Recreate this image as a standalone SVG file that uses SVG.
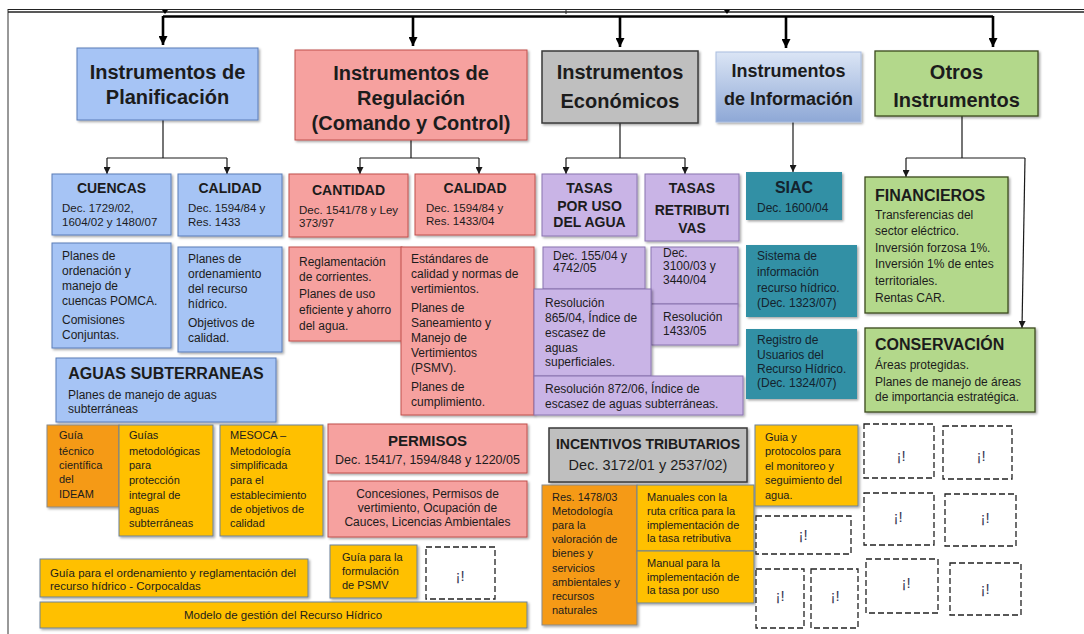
<svg xmlns="http://www.w3.org/2000/svg" width="1084" height="634" viewBox="0 0 1084 634">
<style>
text{font-family:"Liberation Sans",Arial,sans-serif;fill:#1c1c1c}
.h{font-size:20px;font-weight:bold;text-anchor:middle}
.s{font-size:14px;font-weight:bold;text-anchor:middle}
.b{font-size:12px}
.d{font-size:11.5px}
.y{font-size:11px}
.m{text-anchor:middle}
.ex{font-size:15px;fill:#3a3a55;text-anchor:middle}
.blue{fill:#a6c4f5;stroke:#5a7db8;stroke-width:1}
.pink{fill:#f6a19f;stroke:#c0504d;stroke-width:1}
.gray{fill:#bfbfbf;stroke:#3a3a3a;stroke-width:1.5}
.purp{fill:#c9b4e6;stroke:#8a74b0;stroke-width:1}
.teal{fill:#3190a5}
.tt{fill:#14232e}
.green{fill:#b3d88b;stroke:#3c4a1e;stroke-width:1.3}
.yel{fill:#ffc000;stroke:#6d8299;stroke-width:1}
.org{fill:#f59a14;stroke:#8a8a8a;stroke-width:1}
.dash{fill:#fff;stroke:#222;stroke-width:1.3;stroke-dasharray:6 3}
.sh{filter:url(#sh)}
.bus{stroke:#000;stroke-width:2.6;fill:none}
.ln{stroke:#1a1a1a;stroke-width:1.2;fill:none}
</style>
<defs>
<filter id="sh" x="-10%" y="-10%" width="130%" height="130%">
<feDropShadow dx="1.5" dy="1.5" stdDeviation="1" flood-color="#000" flood-opacity="0.35"/>
</filter>
<linearGradient id="ig" x1="0" y1="0" x2="0" y2="1">
<stop offset="0" stop-color="#dbe5f5"/>
<stop offset="1" stop-color="#8ea8d6"/>
</linearGradient>
<marker id="big" viewBox="0 0 10 10" refX="10" refY="5" markerWidth="9" markerHeight="9" markerUnits="userSpaceOnUse" orient="auto">
<path d="M0,0 L10,5 L0,10 z" fill="#000"/>
</marker>
<marker id="sm" viewBox="0 0 10 10" refX="10" refY="5" markerWidth="7" markerHeight="7" markerUnits="userSpaceOnUse" orient="auto">
<path d="M0,0 L10,5 L0,10 z" fill="#1a1a1a"/>
</marker>
</defs>
<rect width="1084" height="634" fill="#fff"/>

<g id="frame">
<line x1="8" y1="9" x2="8" y2="634" stroke="#333" stroke-width="1"/>
<line x1="8" y1="9.5" x2="1084" y2="9.5" stroke="#222" stroke-width="1"/>
<line x1="8" y1="12" x2="1084" y2="12" stroke="#222" stroke-width="1.4"/>
<path d="M162,10 L168,10 L165,14 z" fill="#000"/>
<line x1="566" y1="9" x2="566" y2="14" stroke="#222" stroke-width="1"/>
<path d="M724,10 L730,10 L727,14 z" fill="#000"/>
</g>

<g id="connectors">
<path class="bus" d="M163,16.5 H993" stroke-width="3.5"/>
<line class="bus" x1="163" y1="16" x2="163" y2="45" marker-end="url(#big)"/>
<line class="bus" x1="413" y1="16" x2="413" y2="46" marker-end="url(#big)"/>
<line class="bus" x1="620" y1="16" x2="620" y2="47" marker-end="url(#big)"/>
<line class="bus" x1="786" y1="16" x2="786" y2="48" marker-end="url(#big)"/>
<line class="bus" x1="993" y1="16" x2="993" y2="47" marker-end="url(#big)"/>
<path class="ln" d="M163,120 V158 M107,158 H227"/>
<line class="ln" x1="107" y1="158" x2="107" y2="174" marker-end="url(#sm)"/>
<line class="ln" x1="227" y1="158" x2="227" y2="174" marker-end="url(#sm)"/>
<path class="ln" d="M411,140 V158 M360,158 H479"/>
<line class="ln" x1="360" y1="158" x2="360" y2="174" marker-end="url(#sm)"/>
<line class="ln" x1="479" y1="158" x2="479" y2="174" marker-end="url(#sm)"/>
<path class="ln" d="M620,123 V158 M566,158 H685"/>
<line class="ln" x1="566" y1="158" x2="566" y2="174" marker-end="url(#sm)"/>
<line class="ln" x1="685" y1="158" x2="685" y2="174" marker-end="url(#sm)"/>
<line class="ln" x1="793" y1="122" x2="793" y2="172" marker-end="url(#sm)"/>
<path class="ln" d="M962,116 V158 M906,158 H1025"/>
<line class="ln" x1="906" y1="158" x2="906" y2="177" marker-end="url(#sm)"/>
<line class="ln" x1="1025" y1="158" x2="1022" y2="328" marker-end="url(#sm)"/>
</g>

<g id="plan-h">
<rect class="blue sh" x="77" y="48" width="181" height="72" stroke-width="1.3"/>
<text class="h" x="167.5" y="79">Instrumentos de</text>
<text class="h" x="167.5" y="104">Planificación</text>
</g>
<g id="reg-h">
<rect class="pink sh" x="295" y="50" width="232" height="90" stroke-width="1.3"/>
<text class="h" x="411" y="80">Instrumentos de</text>
<text class="h" x="411" y="105">Regulación</text>
<text class="h" x="411" y="130">(Comando y Control)</text>
</g>
<g id="eco-h">
<rect class="gray sh" x="542" y="51" width="156" height="72"/>
<text class="h" x="620" y="79">Instrumentos</text>
<text class="h" x="620" y="108">Económicos</text>
</g>
<g id="inf-h">
<rect class="sh" x="716" y="52" width="145" height="70" fill="url(#ig)" stroke="#a9bde0" stroke-width="1"/>
<text class="h" x="788.5" y="77" style="font-size:18px">Instrumentos</text>
<text class="h" x="788.5" y="105" style="font-size:18px">de Información</text>
</g>
<g id="otr-h">
<rect class="green sh" x="875" y="51" width="163" height="65"/>
<text class="h" x="956.5" y="79">Otros</text>
<text class="h" x="956.5" y="107">Instrumentos</text>
</g>

<g id="cuencas">
<rect class="blue sh" x="52" y="174" width="119" height="61"/>
<text class="s" x="111.5" y="193">CUENCAS</text>
<text class="d" x="62" y="212">Dec. 1729/02,</text>
<text class="d" x="62" y="226">1604/02 y 1480/07</text>
</g>
<g id="calidad-p">
<rect class="blue sh" x="178" y="174" width="104" height="62"/>
<text class="s" x="230" y="193">CALIDAD</text>
<text class="d" x="188" y="212">Dec. 1594/84  y</text>
<text class="d" x="188" y="226">Res. 1433</text>
</g>
<g id="pomca">
<rect class="blue sh" x="52" y="243" width="119" height="105"/>
<text class="b" x="62" y="260">Planes de</text>
<text class="b" x="62" y="275">ordenación y</text>
<text class="b" x="62" y="290">manejo de</text>
<text class="b" x="62" y="305">cuencas POMCA.</text>
<text class="b" x="62" y="324">Comisiones</text>
<text class="b" x="62" y="339">Conjuntas.</text>
</g>
<g id="ordenamiento">
<rect class="blue sh" x="178" y="247" width="104" height="105"/>
<text class="b" x="188" y="263">Planes de</text>
<text class="b" x="188" y="278">ordenamiento</text>
<text class="b" x="188" y="293">del recurso</text>
<text class="b" x="188" y="308">hídrico.</text>
<text class="b" x="188" y="327">Objetivos de</text>
<text class="b" x="188" y="342">calidad.</text>
</g>
<g id="aguas">
<rect class="blue sh" x="56" y="358" width="220" height="64"/>
<text class="s" x="166" y="379" style="font-size:16px">AGUAS SUBTERRANEAS</text>
<text class="b" x="68" y="399">Planes de manejo de aguas</text>
<text class="b" x="68" y="413">subterráneas</text>
</g>

<g id="cantidad">
<rect class="pink sh" x="289" y="174" width="119" height="63"/>
<text class="s" x="348.5" y="195">CANTIDAD</text>
<text class="d" x="299" y="214">Dec. 1541/78 y Ley</text>
<text class="d" x="299" y="227">373/97</text>
</g>
<g id="calidad-r">
<rect class="pink sh" x="415" y="174" width="120" height="61"/>
<text class="s" x="475" y="193">CALIDAD</text>
<text class="d" x="426" y="212">Dec. 1594/84 y</text>
<text class="d" x="426" y="225">Res. 1433/04</text>
</g>
<g id="reglamentacion">
<rect class="pink sh" x="289" y="247" width="113" height="94"/>
<text class="b" x="299" y="266">Reglamentación</text>
<text class="b" x="299" y="281">de corrientes.</text>
<text class="b" x="299" y="298">Planes  de uso</text>
<text class="b" x="299" y="314">eficiente y ahorro</text>
<text class="b" x="299" y="330">del agua.</text>
</g>
<g id="estandares">
<rect class="pink sh" x="401" y="247" width="133" height="168"/>
<text class="b" x="411" y="263">Estándares de</text>
<text class="b" x="411" y="278">calidad y normas de</text>
<text class="b" x="411" y="293">vertimientos.</text>
<text class="b" x="411" y="312">Planes de</text>
<text class="b" x="411" y="327">Saneamiento y</text>
<text class="b" x="411" y="342">Manejo de</text>
<text class="b" x="411" y="357">Vertimientos</text>
<text class="b" x="411" y="372">(PSMV).</text>
<text class="b" x="411" y="391">Planes de</text>
<text class="b" x="411" y="406">cumplimiento.</text>
</g>

<g id="tasas-uso">
<rect class="purp sh" x="542" y="174" width="95" height="62"/>
<text class="s" x="589.5" y="193">TASAS</text>
<text class="s" x="589.5" y="211">POR USO</text>
<text class="s" x="589.5" y="227">DEL AGUA</text>
</g>
<g id="tasas-ret">
<rect class="purp sh" x="645" y="174" width="94" height="67"/>
<text class="s" x="692" y="193">TASAS</text>
<text class="s" x="692" y="215">RETRIBUTI</text>
<text class="s" x="692" y="233">VAS</text>
</g>
<g id="dec155">
<rect class="purp sh" x="543" y="247" width="102" height="42"/>
<text class="b" x="553" y="260">Dec. 155/04 y</text>
<text class="b" x="553" y="272">4742/05</text>
</g>
<g id="dec3100">
<rect class="purp sh" x="651" y="247" width="87" height="57"/>
<text class="b" x="663" y="257">Dec.</text>
<text class="b" x="663" y="270">3100/03 y</text>
<text class="b" x="663" y="284">3440/04</text>
</g>
<g id="res1433">
<rect class="purp sh" x="651" y="304" width="87" height="41"/>
<text class="b" x="663" y="321">Resolución</text>
<text class="b" x="663" y="335">1433/05</text>
</g>
<g id="res865">
<rect class="purp sh" x="534" y="289" width="117" height="87"/>
<text class="b" x="545" y="307">Resolución</text>
<text class="b" x="545" y="322">865/04, Índice de</text>
<text class="b" x="545" y="337">escasez de</text>
<text class="b" x="545" y="352">aguas</text>
<text class="b" x="545" y="366">superficiales.</text>
</g>
<g id="res872">
<rect class="purp sh" x="534" y="376" width="209" height="39"/>
<text class="b" x="545" y="393">Resolución 872/06,  Índice de</text>
<text class="b" x="545" y="408">escasez de aguas subterráneas.</text>
</g>

<g id="siac">
<rect class="teal sh" x="746" y="172" width="96" height="48"/>
<text class="s tt" x="794" y="193" style="font-size:16px">SIAC</text>
<text class="b tt" x="757" y="212">Dec. 1600/04</text>
</g>
<g id="sistema">
<rect class="teal sh" x="746" y="245" width="111" height="72"/>
<text class="b tt" x="757" y="260">Sistema de</text>
<text class="b tt" x="757" y="276">información</text>
<text class="b tt" x="757" y="292">recurso  hídrico.</text>
<text class="b tt" x="757" y="307">(Dec. 1323/07)</text>
</g>
<g id="registro">
<rect class="teal sh" x="746" y="329" width="111" height="70"/>
<text class="b tt" x="757" y="344">Registro  de</text>
<text class="b tt" x="757" y="359">Usuarios del</text>
<text class="b tt" x="757" y="373">Recurso Hídrico.</text>
<text class="b tt" x="757" y="387">(Dec. 1324/07)</text>
</g>

<g id="financieros">
<rect class="green sh" x="865" y="177" width="143" height="136"/>
<text class="s" x="875" y="201" style="font-size:16px;text-anchor:start">FINANCIEROS</text>
<text class="b" x="875" y="219">Transferencias del</text>
<text class="b" x="875" y="235">sector eléctrico.</text>
<text class="b" x="875" y="252">Inversión forzosa 1%.</text>
<text class="b" x="875" y="268">Inversión 1% de entes</text>
<text class="b" x="875" y="285">territoriales.</text>
<text class="b" x="875" y="302">Rentas CAR.</text>
</g>
<g id="conservacion">
<rect class="green sh" x="865" y="328" width="170" height="84"/>
<text class="s" x="875" y="350" style="font-size:16px;text-anchor:start">CONSERVACIÓN</text>
<text class="b" x="875" y="369">Áreas protegidas.</text>
<text class="b" x="875" y="386">Planes de manejo de áreas</text>
<text class="b" x="875" y="401">de importancia estratégica.</text>
</g>

<g id="guia-tecnico">
<rect class="org sh" x="47" y="425" width="72" height="82"/>
<text class="y" x="59" y="439">Guía</text>
<text class="y" x="59" y="455">técnico</text>
<text class="y" x="59" y="469">científica</text>
<text class="y" x="59" y="483">del</text>
<text class="y" x="59" y="498">IDEAM</text>
</g>
<g id="guias-met">
<rect class="yel sh" x="119" y="425" width="94" height="111"/>
<text class="y" x="129" y="439">Guías</text>
<text class="y" x="129" y="455">metodológicas</text>
<text class="y" x="129" y="469">para</text>
<text class="y" x="129" y="484">protección</text>
<text class="y" x="129" y="499">integral de</text>
<text class="y" x="129" y="513">aguas</text>
<text class="y" x="129" y="527">subterráneas</text>
</g>
<g id="mesoca">
<rect class="yel sh" x="220" y="425" width="103" height="111"/>
<text class="y" x="230" y="439">MESOCA –</text>
<text class="y" x="230" y="455">Metodología</text>
<text class="y" x="230" y="469">simplificada</text>
<text class="y" x="230" y="484">para el</text>
<text class="y" x="230" y="499">establecimiento</text>
<text class="y" x="230" y="513">de objetivos  de</text>
<text class="y" x="230" y="527">calidad</text>
</g>
<g id="guia-ordenamiento">
<rect class="yel sh" x="40" y="559" width="268" height="38"/>
<text class="d" x="50" y="577">Guía para el ordenamiento y reglamentación  del</text>
<text class="d" x="50" y="590">recurso hídrico  - Corpocaldas</text>
</g>
<g id="modelo">
<rect class="yel sh" x="40" y="602" width="487" height="26"/>
<text class="d m" x="283" y="619">Modelo de gestión del Recurso Hídrico</text>
</g>

<g id="permisos">
<rect class="pink sh" x="328" y="424" width="199" height="49"/>
<text class="s" x="427.5" y="446" style="font-size:15px">PERMISOS</text>
<text class="m" x="427.5" y="464" style="font-size:12.5px">Dec. 1541/7, 1594/848 y 1220/05</text>
</g>
<g id="concesiones">
<rect class="pink sh" x="328" y="481" width="199" height="56"/>
<text class="b m" x="427.5" y="498">Concesiones, Permisos de</text>
<text class="b m" x="427.5" y="512">vertimiento, Ocupación de</text>
<text class="b m" x="427.5" y="526">Cauces, Licencias Ambientales</text>
</g>
<g id="guia-psmv">
<rect class="yel sh" x="330" y="545" width="87" height="53"/>
<text class="y" x="342" y="561">Guía para  la</text>
<text class="y" x="342" y="575">formulación</text>
<text class="y" x="342" y="589">de PSMV</text>
</g>
<g id="vacio-1">
<rect class="dash" x="426" y="547" width="69" height="52"/>
<text class="ex" x="460" y="581">¡!</text>
</g>

<g id="incentivos">
<rect class="gray sh" x="549" y="428" width="198" height="54"/>
<text class="s" x="648" y="449">INCENTIVOS TRIBUTARIOS</text>
<text class="m" x="648" y="470" style="font-size:14.5px">Dec. 3172/01 y 2537/02)</text>
</g>
<g id="res1478">
<rect class="org sh" x="542" y="485" width="95" height="140"/>
<text class="y" x="552" y="501">Res. 1478/03</text>
<text class="y" x="552" y="515">Metodología</text>
<text class="y" x="552" y="529">para la</text>
<text class="y" x="552" y="543">valoración de</text>
<text class="y" x="552" y="557">bienes y</text>
<text class="y" x="552" y="572">servicios</text>
<text class="y" x="552" y="586">ambientales y</text>
<text class="y" x="552" y="600">recursos</text>
<text class="y" x="552" y="614">naturales</text>
</g>
<g id="manuales">
<rect class="yel sh" x="637" y="485" width="117" height="66"/>
<text class="y" x="647" y="501">Manuales con la</text>
<text class="y" x="647" y="515">ruta crítica para la</text>
<text class="y" x="647" y="529">implementación de</text>
<text class="y" x="647" y="542">la tasa retributiva</text>
</g>
<g id="manual-uso">
<rect class="yel sh" x="637" y="551" width="117" height="52"/>
<text class="y" x="647" y="567">Manual para la</text>
<text class="y" x="647" y="581">implementación de</text>
<text class="y" x="647" y="594">la tasa por uso</text>
</g>

<g id="guia-protocolos">
<rect class="yel sh" x="755" y="425" width="103" height="81"/>
<text class="y" x="765" y="441">Guia y</text>
<text class="y" x="765" y="455">protocolos para</text>
<text class="y" x="765" y="470">el  monitoreo  y</text>
<text class="y" x="765" y="484">seguimiento  del</text>
<text class="y" x="765" y="499">agua.</text>
</g>
<g id="vacio-2"><rect class="dash" x="756" y="516" width="95" height="38"/><text class="ex" x="803" y="540">¡!</text></g>
<g id="vacio-3"><rect class="dash" x="756" y="569" width="48" height="59"/><text class="ex" x="780" y="601">¡!</text></g>
<g id="vacio-4"><rect class="dash" x="811" y="569" width="47" height="59"/><text class="ex" x="835" y="601">¡!</text></g>
<g id="vacio-5"><rect class="dash" x="864" y="424" width="70" height="54"/><text class="ex" x="901" y="461">¡!</text></g>
<g id="vacio-6"><rect class="dash" x="943" y="426" width="69" height="53"/><text class="ex" x="981" y="461">¡!</text></g>
<g id="vacio-7"><rect class="dash" x="864" y="493" width="70" height="52"/><text class="ex" x="898" y="522">¡!</text></g>
<g id="vacio-8"><rect class="dash" x="945" y="494" width="71" height="52"/><text class="ex" x="985" y="523">¡!</text></g>
<g id="vacio-9"><rect class="dash" x="866" y="559" width="72" height="54"/><text class="ex" x="906" y="588">¡!</text></g>
<g id="vacio-10"><rect class="dash" x="950" y="563" width="71" height="52"/><text class="ex" x="985" y="594">¡!</text></g>
</svg>
